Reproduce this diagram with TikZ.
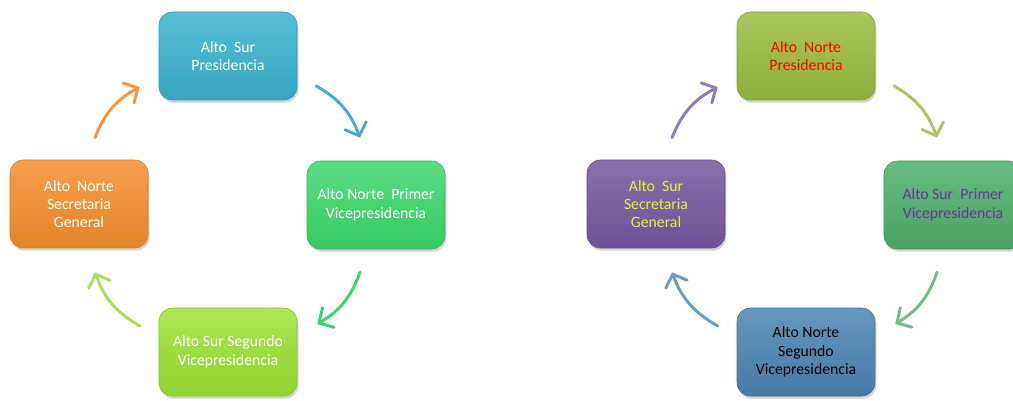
\documentclass[tikz,border=0pt]{standalone}
\usepackage{fontspec}
\setmainfont{Carlito}
\usetikzlibrary{arrows.meta,shadows}

\definecolor{cTeal}{HTML}{3AB2CE}
\definecolor{cOrange}{HTML}{F58E2C}
\definecolor{cGreen}{HTML}{3CD86C}
\definecolor{cLime}{HTML}{9BE233}
\definecolor{cOlive}{HTML}{9ABB3E}
\definecolor{cPurple}{HTML}{7657A0}
\definecolor{cSea}{HTML}{4CB06A}
\definecolor{cBlue}{HTML}{4A84B3}
\definecolor{aTeal}{HTML}{46ABC8}
\definecolor{aOrange}{HTML}{F7943C}
\definecolor{aGreen}{HTML}{3DD36A}
\definecolor{aLime}{HTML}{A6E05A}
\definecolor{aPurple}{HTML}{8C7BBE}
\definecolor{aOlive}{HTML}{A9C465}
\definecolor{aSea}{HTML}{6CBF84}
\definecolor{aBlue}{HTML}{6A9BC0}
\definecolor{tPurple}{HTML}{7030A0}
\definecolor{tYellow}{HTML}{F2F030}

\tikzset{
  cargo/.style={draw=#1!85!black, line width=0.4pt, rounded corners=10pt,
    top color=#1!85!white, middle color=#1, bottom color=#1!93!black,
    minimum width=103.5pt, minimum height=66pt, align=center,
    font=\fontsize{11.8}{13.8}\selectfont,
    drop shadow={opacity=0.35, shadow xshift=1pt, shadow yshift=-2pt}},
  turno/.style={draw=#1, line width=2.2pt, line cap=round,
    -{Straight Barb[length=8pt, width=17pt, line cap=round]}}
}

\begin{document}
\begin{tikzpicture}[x=0.75pt,y=0.75pt]
\useasboundingbox (0,0) rectangle (1013,400);

% primer periodo
\node[cargo=cTeal, text=white]   (ls) at (228,344) {Alto\ \ Sur\\Presidencia};
\node[cargo=cOrange, text=white] (ln) at (79,196)  {Alto\ \ Norte\\Secretaria\\General};
\node[cargo=cGreen, text=white]  (lp) at (376,195) {Alto Norte\ \ Primer\\Vicepresidencia};
\node[cargo=cLime, text=white]   (lb) at (228,48)  {Alto Sur Segundo\\Vicepresidencia};

\draw[turno=aOrange] ([shift={(16,22)}]ln.north) to[bend left=20] ([shift={(-19,-31)}]ls.west);
\draw[turno=aTeal]   ([shift={(19,-30)}]ls.east) to[bend left=20] ([shift={(-16,23)}]lp.north);
\draw[turno=aGreen]  ([shift={(-16,-23)}]lp.south) to[bend left=20] ([shift={(20,28)}]lb.east);
\draw[turno=aLime]   ([shift={(-19,26)}]lb.west) to[bend left=20] ([shift={(16,-24)}]ln.south);

% segundo periodo
\node[cargo=cOlive, text=red]        (rt) at (806,344) {Alto\ \ Norte\\Presidencia};
\node[cargo=cPurple, text=tYellow]   (rl) at (656,196) {Alto\ \ Sur\\Secretaria\\General};
\node[cargo=cSea, text=tPurple]      (rr) at (953,195) {Alto Sur\ \ Primer\\Vicepresidencia};
\node[cargo=cBlue, text=black]       (rb) at (806,48)  {Alto Norte\\Segundo\\Vicepresidencia};

\draw[turno=aPurple] ([shift={(16,22)}]rl.north) to[bend left=20] ([shift={(-19,-31)}]rt.west);
\draw[turno=aOlive]  ([shift={(19,-30)}]rt.east) to[bend left=20] ([shift={(-16,23)}]rr.north);
\draw[turno=aSea]    ([shift={(-16,-23)}]rr.south) to[bend left=20] ([shift={(20,28)}]rb.east);
\draw[turno=aBlue]   ([shift={(-19,26)}]rb.west) to[bend left=20] ([shift={(16,-24)}]rl.south);
\end{tikzpicture}
\end{document}
